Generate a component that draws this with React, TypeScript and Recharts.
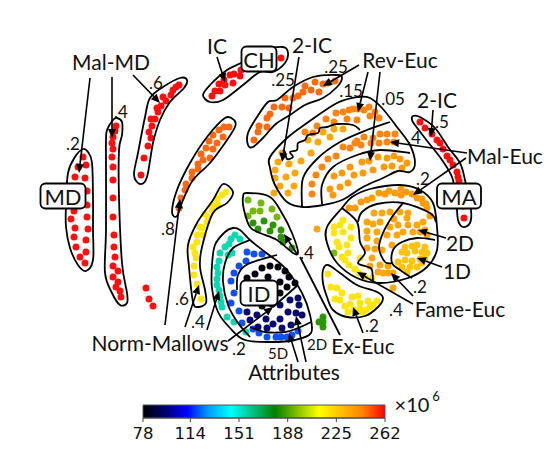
import { ScatterChart, Scatter, XAxis, YAxis, ReferenceArea } from "recharts";

type Pair = number[];

// Embedding coordinates, one array per colour group
const redDots: Pair[] = [
  [83, 157], [78, 167], [86, 165], [75, 177], [85, 178], [87, 191], [87, 205], [74, 211], [71, 219], [87, 217],
  [75, 228], [88, 229], [74, 237], [86, 240], [76, 247], [86, 252], [80, 257], [85, 263],
  [116, 126], [115, 131], [113, 137], [112, 143], [113, 149], [112, 157], [113, 167], [113, 180], [113, 198], [113, 217],
  [114, 235], [114, 247], [115, 257], [113, 266], [118, 271], [113, 277], [118, 282], [116, 287], [120, 291], [121, 297],
  [146, 288], [149, 299], [153, 306],
  [179, 85], [176, 87], [173, 90], [171, 95], [163, 97], [166, 101], [161, 106], [157, 108], [158, 112], [155, 119],
  [151, 119], [152, 126], [149, 132], [151, 138], [148, 146], [144, 158], [141, 175],
  [212, 96], [215, 91], [220, 91], [219, 84], [224, 80], [225, 85], [230, 75], [234, 74], [233, 83], [240, 76], [241, 70], [281, 58],
  [420, 122], [425, 128], [432, 134], [437, 140], [440, 143], [443, 149], [447, 156], [450, 160], [453, 165], [457, 172],
  [458, 177], [459, 181], [463, 206], [464, 218],
];
const redOrangeDots: Pair[] = [
  [229, 127], [224, 127], [219, 130], [213, 135], [223, 137], [209, 141], [217, 143], [206, 148], [213, 149], [201, 154],
  [210, 158], [203, 160], [198, 164], [198, 169], [192, 172], [192, 178], [186, 184], [185, 190], [181, 198], [179, 208],
  [335, 81], [328, 83], [323, 84], [315, 82], [319, 92], [311, 90], [305, 86], [303, 92], [298, 96], [293, 98],
  [285, 98], [282, 107], [274, 107], [270, 114], [267, 118], [289, 108], [267, 127], [259, 126], [258, 132], [254, 140],
];
const orangeDots: Pair[] = [
  [369, 107], [364, 110], [358, 109], [353, 109], [349, 110], [343, 112], [336, 113], [375, 112], [370, 116], [379, 118],
  [357, 120], [347, 119], [334, 122], [326, 119], [317, 126], [313, 133], [305, 132],
  [395, 134], [387, 134], [380, 134], [373, 138], [364, 137], [357, 141], [394, 142], [387, 142], [379, 143], [371, 143],
  [361, 145], [355, 143], [350, 148], [343, 147], [336, 156], [328, 159], [322, 167], [316, 175], [312, 184], [312, 194],
];
const amberDots: Pair[] = [
  [394, 156], [387, 158], [378, 157], [369, 161], [362, 162], [407, 163], [400, 159], [392, 166], [384, 167], [402, 168],
  [373, 170], [363, 173], [354, 175], [350, 167], [342, 173], [334, 176], [348, 183], [340, 187], [330, 189], [333, 195],
  [349, 208], [355, 208], [361, 202], [367, 200], [372, 198], [379, 193], [385, 194], [389, 191], [395, 193], [401, 189],
  [401, 195], [406, 192], [412, 194], [417, 198], [422, 199], [426, 204], [430, 216], [423, 203], [427, 208],
];
const lightOrangeDots: Pair[] = [
  [343, 129], [334, 129], [330, 137], [323, 132], [318, 142], [308, 140], [311, 153], [301, 161], [295, 173], [289, 164],
  [278, 162], [282, 153], [275, 170], [286, 177], [275, 178], [294, 186], [280, 186], [288, 193], [274, 193],
  [408, 213], [400, 212], [394, 219], [407, 218], [390, 212], [382, 213], [374, 213], [367, 222], [373, 224], [380, 222],
  [390, 227], [398, 225], [408, 225], [417, 225], [423, 222], [425, 230], [367, 231], [377, 232], [387, 235], [397, 235],
  [403, 232], [413, 232], [420, 232], [427, 235], [367, 238], [377, 241], [392, 245], [382, 250], [367, 248], [375, 249],
  [372, 258], [380, 265], [388, 266], [370, 266], [378, 272], [383, 273], [388, 273], [393, 273], [393, 288], [317, 229],
];
const goldDots: Pair[] = [
  [405, 247], [412, 246], [417, 245], [425, 247], [402, 252], [407, 253], [415, 251], [422, 252], [427, 253], [398, 262],
  [405, 260], [412, 261], [420, 259], [425, 258], [410, 267], [402, 267], [407, 272], [417, 267], [422, 263],
];
const yellowDots: Pair[] = [
  [226, 192], [222, 195], [217, 199], [218, 205], [212, 205], [212, 210], [208, 217], [205, 214], [207, 222], [200, 227],
  [202, 228], [197, 235], [203, 235], [197, 242], [193, 247], [195, 253], [196, 258], [194, 266], [194, 275], [197, 284], [201, 299],
  [343, 220], [340, 225], [334, 227], [343, 232], [351, 227], [334, 233], [351, 238], [337, 242], [339, 247], [347, 245],
  [348, 253], [342, 257], [345, 260], [360, 258], [349, 265], [355, 269], [359, 273], [365, 277], [372, 278],
  [328, 274], [331, 287], [337, 288], [342, 293], [335, 299], [340, 300], [352, 297], [358, 296], [345, 306], [350, 304],
  [360, 303], [360, 309], [368, 301], [377, 301], [370, 307], [373, 305], [348, 312], [354, 310], [363, 312], [366, 310],
];
const limeDots: Pair[] = [[248, 200], [261, 203], [253, 211], [260, 211], [272, 209], [248, 216], [277, 217], [334, 253]];
const greenDots: Pair[] = [
  [253, 223], [264, 221], [273, 225], [258, 229], [270, 231], [281, 230], [281, 237], [283, 242], [292, 248],
  [323, 317], [319, 322], [323, 322], [323, 327],
];
const tealDots: Pair[] = [
  [235, 235], [240, 239], [231, 239], [225, 247], [229, 244], [232, 253], [220, 253], [228, 255], [219, 261], [217, 267],
  [218, 273], [217, 279], [217, 285], [219, 290], [220, 296], [221, 302], [222, 307], [227, 317], [234, 322], [246, 332],
];
const blueDots: Pair[] = [
  [247, 252], [254, 254], [262, 254], [246, 261], [239, 266], [234, 273], [231, 281], [234, 293], [231, 303], [239, 311],
  [242, 323], [253, 329], [259, 333], [267, 337], [276, 337], [281, 337], [287, 337], [292, 335], [298, 331],
];
const navyDots: Pair[] = [
  [298, 298], [290, 300], [299, 305], [280, 305], [288, 312], [296, 313], [302, 315], [280, 319], [273, 324], [266, 319],
  [257, 315], [247, 312], [250, 320], [291, 325], [282, 328], [258, 327], [267, 328],
];
const blackDots: Pair[] = [
  [262, 268], [270, 266], [278, 267], [285, 271], [289, 277], [295, 283], [255, 274], [247, 278], [268, 277],
  [280, 282], [287, 287], [280, 293], [262, 306], [272, 304],
];

const dotGroups: [Pair[], string][] = [
  [redDots, "#ff0f0f"],
  [redOrangeDots, "#ff6a10"],
  [orangeDots, "#ff8410"],
  [amberDots, "#ff9a08"],
  [lightOrangeDots, "#ffa70a"],
  [goldDots, "#ffc408"],
  [yellowDots, "#ffe50a"],
  [limeDots, "#74b80a"],
  [greenDots, "#2a9605"],
  [tealDots, "#0ad8b0"],
  [blueDots, "#1250f5"],
  [navyDots, "#0a0a6c"],
  [blackDots, "#050510"],
];

// Hand-drawn cluster outlines in the same coordinates
const closedOutlines: Pair[][] = [
  [[83, 149], [88, 152], [92, 163], [93, 197], [93, 230], [93, 260], [86, 271], [78, 265], [70, 248], [66, 227], [66, 205], [68, 173], [75, 157]],
  [[117, 118], [122, 122], [122, 135], [119, 150], [119, 197], [122, 263], [127, 293], [127, 303], [120, 305], [112, 293], [105, 273], [106, 230], [106, 163], [106, 140], [107, 130], [113, 120]],
  [[180, 78], [187, 80], [184, 88], [170, 102], [160, 120], [153, 143], [147, 177], [140, 184], [134, 175], [138, 153], [145, 117], [150, 98], [163, 87]],
  [[203, 95], [210, 85], [227, 70], [243, 62], [262, 50], [283, 47], [288, 53], [285, 63], [273, 72], [260, 72], [243, 85], [223, 100], [210, 102]],
  [[225, 118], [234, 120], [235, 127], [225, 143], [210, 163], [193, 180], [183, 200], [177, 216], [172, 212], [177, 190], [190, 163], [207, 137]],
  [[223, 184], [233, 192], [227, 203], [213, 213], [202, 247], [200, 267], [205, 290], [206, 303], [198, 307], [193, 302], [189, 267], [188, 245], [197, 223], [213, 200]],
  [[337, 75], [342, 78], [337, 87], [323, 98], [305, 105], [290, 115], [277, 123], [270, 130], [263, 138], [253, 147], [248, 145], [248, 133], [257, 117], [268, 102], [277, 100], [293, 87], [313, 77]],
  [[270, 157], [287, 138], [307, 123], [337, 103], [358, 97], [370, 98], [382, 108], [397, 127], [410, 145], [415, 163], [410, 172], [398, 171], [383, 178], [363, 187], [342, 200], [323, 205], [303, 207], [287, 202], [275, 185], [270, 168]],
  [[413, 116], [420, 117], [435, 128], [448, 147], [460, 163], [465, 180], [471, 210], [470, 223], [463, 227], [458, 220], [456, 197], [452, 177], [442, 160], [428, 142], [415, 125], [412, 120]],
  [[342, 208], [352, 197], [370, 189], [400, 185], [420, 190], [433, 203], [437, 227], [437, 250], [427, 267], [408, 278], [380, 283], [357, 278], [337, 263], [327, 243], [327, 227]],
  [[323, 270], [328, 265], [340, 273], [357, 285], [377, 292], [383, 298], [378, 307], [365, 316], [347, 317], [333, 310], [327, 297], [323, 283]],
  [[247, 193], [270, 197], [283, 215], [292, 233], [298, 252], [293, 253], [277, 240], [260, 233], [250, 227], [244, 210], [243, 197]],
  [[233, 228], [225, 232], [215, 245], [212, 265], [212, 288], [218, 312], [230, 328], [245, 340], [272, 342], [295, 340], [311, 333], [310, 315], [302, 293], [285, 268], [265, 252], [250, 240], [240, 230]],
];
const openDividers: Pair[][] = [
  [[302, 207], [303, 178], [318, 158], [340, 142], [367, 130], [390, 122]],
  [[322, 204], [322, 185], [333, 167], [357, 155], [380, 150], [410, 153]],
  [[360, 130], [353, 125], [337, 124], [327, 127], [320, 128], [318, 133], [308, 135], [305, 140], [298, 143], [297, 150], [290, 152], [293, 157], [287, 159], [285, 152], [283, 150]],
  [[358, 222], [362, 212], [377, 204], [403, 203], [430, 213], [436, 222]],
  [[403, 203], [392, 217], [383, 233], [379, 248], [385, 262], [393, 263]],
  [[435, 240], [417, 238], [402, 242], [393, 250], [392, 263], [400, 270], [412, 278]],
  [[342, 208], [357, 222], [360, 242], [365, 253], [358, 263], [368, 267], [372, 270], [373, 282]],
  [[250, 240], [233, 248], [225, 263], [223, 282], [228, 305], [238, 323], [250, 337]],
  [[277, 255], [248, 264], [238, 275], [237, 290]],
  [[250, 327], [265, 332], [285, 332], [298, 328], [311, 322]],
  [[273, 307], [298, 285]],
  [[300, 257], [340, 335]],
];
const arrows: Pair[][] = [
  [[90, 78], [79, 173]],
  [[112, 77], [112, 138]],
  [[133, 75], [160, 103]],
  [[217, 57], [225, 82]],
  [[299, 57], [282, 162]],
  [[359, 65], [323, 86]],
  [[368, 72], [358, 112]],
  [[380, 72], [370, 161]],
  [[433, 110], [431, 137]],
  [[467, 153], [390, 142]],
  [[466, 158], [413, 195]],
  [[446, 238], [418, 230]],
  [[442, 267], [417, 258]],
  [[413, 296], [391, 273]],
  [[413, 304], [357, 272]],
  [[363, 333], [353, 307]],
  [[297, 254], [284, 234]],
  [[165, 325], [180, 199]],
  [[185, 327], [199, 285]],
  [[207, 330], [219, 291]],
  [[228, 341], [273, 307]],
  [[298, 362], [289, 333]],
  [[306, 362], [296, 316]],
];

const boxLabels = [
  { x: 63, y: 196, w: 43, text: "MD" },
  { x: 259, y: 59, w: 33, text: "CH" },
  { x: 459, y: 196, w: 42, text: "MA" },
  { x: 259, y: 293, w: 35, text: "ID" },
];
const bigLabels = [
  { x: 111, y: 61, text: "Mal-MD" },
  { x: 217, y: 45, text: "IC" },
  { x: 312, y: 44, text: "2-IC" },
  { x: 400, y: 59, text: "Rev-Euc" },
  { x: 437, y: 99, text: "2-IC" },
  { x: 505, y: 155, text: "Mal-Euc" },
  { x: 460, y: 242, text: "2D" },
  { x: 457, y: 270, text: "1D" },
  { x: 460, y: 308, text: "Fame-Euc" },
  { x: 363, y: 345, text: "Ex-Euc" },
  { x: 160, y: 342, text: "Norm-Mallows" },
  { x: 294, y: 371, text: "Attributes" },
];
const smallLabels = [
  { x: 73, y: 143, text: ".2" },
  { x: 121, y: 111, text: ".4" },
  { x: 156, y: 82, text: ".6" },
  { x: 336, y: 66, text: ".25" },
  { x: 283, y: 79, text: ".25" },
  { x: 351, y: 90, text: ".15" },
  { x: 393, y: 98, text: ".05" },
  { x: 442, y: 121, text: ".5" },
  { x: 414, y: 137, text: ".4" },
  { x: 423, y: 178, text: ".2" },
  { x: 420, y: 286, text: ".2" },
  { x: 396, y: 309, text: ".4" },
  { x: 372, y: 325, text: ".2" },
  { x: 307, y: 252, text: ".4" },
  { x: 168, y: 228, text: ".8" },
  { x: 182, y: 298, text: ".6" },
  { x: 198, y: 321, text: ".4" },
  { x: 239, y: 348, text: ".2" },
];
const sizeLabels = [
  { x: 278, y: 353, text: "5D" },
  { x: 317, y: 344, text: "2D" },
];

const colorbarTicks = [78, 114, 151, 188, 225, 262];
const colorbarEnds = [{ x: 78, y: 0 }, { x: 262, y: 1 }];
const colorbarStops = ["#000000", "#00006e", "#0000ff", "#00a0ff", "#00ffff", "#00c080", "#008000", "#80c000", "#ffff00", "#ffc000", "#ff8000", "#ff0000"];

const FONT = "Lato, 'Open Sans', sans-serif";

const toPoints = (pairs: Pair[]) => pairs.map(([x, y]) => ({ x, y }));

// Catmull-Rom through the outline's points, so the loops stay round
function smoothPath(pts: { x: number; y: number }[], closed: boolean) {
  const n = pts.length;
  const at = (i: number) => (closed ? pts[(i + n) % n] : pts[Math.max(0, Math.min(n - 1, i))]);
  let d = `M${pts[0].x},${pts[0].y}`;
  const last = closed ? n : n - 1;
  for (let i = 0; i < last; i++) {
    const p0 = at(i - 1);
    const p1 = at(i);
    const p2 = at(i + 1);
    const p3 = at(i + 2);
    d += `C${p1.x + (p2.x - p0.x) / 6},${p1.y + (p2.y - p0.y) / 6} ${p2.x - (p3.x - p1.x) / 6},${p2.y - (p3.y - p1.y) / 6} ${p2.x},${p2.y}`;
  }
  return closed ? d + "Z" : d;
}

const outlineLine = (closed: boolean) => (props: any) => (
  <path d={smoothPath(props.points, closed)} fill="none" stroke="#000" strokeWidth={1.8} />
);

function arrowLine(props: any) {
  const [a, b] = props.points;
  const ang = Math.atan2(b.y - a.y, b.x - a.x);
  const size = 9;
  const wing = 4;
  const bx = b.x - size * Math.cos(ang);
  const by = b.y - size * Math.sin(ang);
  const head = [
    [b.x, b.y],
    [bx - wing * Math.sin(ang), by + wing * Math.cos(ang)],
    [bx + wing * Math.sin(ang), by - wing * Math.cos(ang)],
  ];
  return (
    <g>
      <line x1={a.x} y1={a.y} x2={bx} y2={by} stroke="#000" strokeWidth={1.6} />
      <polygon points={head.map((p) => p.join(",")).join(" ")} fill="#000" />
    </g>
  );
}

const noMark = () => <g />;

const textShape = (size: number) => (props: any) => (
  <text x={props.cx} y={props.cy} fontSize={size} fontFamily={FONT} fill="#111" textAnchor="middle" dominantBaseline="central">
    {props.text}
  </text>
);

const boxShape = (props: any) => (
  <g>
    <rect x={props.cx - props.w / 2 - 1} y={props.cy - 12.5} width={props.w + 2} height={25} rx={5} fill="#fff" stroke="#000" strokeWidth={1.8} />
    <text x={props.cx} y={props.cy} fontSize={22} fontFamily={FONT} fill="#111" textAnchor="middle" dominantBaseline="central">
      {props.text}
    </text>
  </g>
);

export default function App() {
  return (
    <div style={{ position: "absolute", left: 0, top: 0, width: 550, height: 475, background: "#fff" }}>
      <div style={{ position: "absolute", left: 0, top: 0 }}>
        <ScatterChart width={550} height={475} margin={{ top: 0, right: 0, bottom: 0, left: 0 }}>
          <XAxis type="number" dataKey="x" domain={[0, 550]} hide />
          <YAxis type="number" dataKey="y" domain={[0, 475]} reversed hide />
          {dotGroups.map(([dots, color], i) => (
            <Scatter
              key={i}
              data={toPoints(dots)}
              isAnimationActive={false}
              shape={(p: any) => <circle cx={p.cx} cy={p.cy} r={3.5} fill={color} />}
            />
          ))}
          {closedOutlines.map((pts, i) => (
            <Scatter key={"c" + i} data={toPoints(pts)} isAnimationActive={false} shape={noMark} line={outlineLine(true)} />
          ))}
          {openDividers.map((pts, i) => (
            <Scatter key={"o" + i} data={toPoints(pts)} isAnimationActive={false} shape={noMark} line={outlineLine(false)} />
          ))}
          {arrows.map((pts, i) => (
            <Scatter key={"a" + i} data={toPoints(pts)} isAnimationActive={false} shape={noMark} line={arrowLine} />
          ))}
          <Scatter data={boxLabels} isAnimationActive={false} shape={boxShape} />
          <Scatter data={bigLabels} isAnimationActive={false} shape={textShape(21)} />
          <Scatter data={smallLabels} isAnimationActive={false} shape={textShape(17)} />
          <Scatter data={sizeLabels} isAnimationActive={false} shape={textShape(15)} />
          <Scatter data={[{ x: 412, y: 404, text: "×10" }]} isAnimationActive={false} shape={textShape(20)} />
          <Scatter data={[{ x: 436, y: 396, text: "6" }]} isAnimationActive={false} shape={textShape(13)} />
        </ScatterChart>
      </div>
      <div style={{ position: "absolute", left: 0, top: 0 }}>
        <ScatterChart width={550} height={475} margin={{ top: 405, right: 165, bottom: 27, left: 143 }}>
          <defs>
            <linearGradient id="jetBar" x1="0" x2="1" y1="0" y2="0">
              {colorbarStops.map((c, i) => (
                <stop key={i} offset={i / (colorbarStops.length - 1)} stopColor={c} />
              ))}
            </linearGradient>
          </defs>
          <XAxis
            type="number"
            dataKey="x"
            domain={[78, 262]}
            ticks={colorbarTicks}
            interval={0}
            height={30}
            tickSize={4}
            tickMargin={5}
            tick={{ fontSize: 16.5, fontFamily: "'DejaVu Sans'", fill: "#111" }}
            stroke="#444"
          />
          <YAxis type="number" dataKey="y" domain={[0, 1]} hide />
          <ReferenceArea x1={78} x2={262} y1={0} y2={1} fill="url(#jetBar)" fillOpacity={1} stroke="#555" />
          <Scatter data={colorbarEnds} isAnimationActive={false} shape={noMark} />
        </ScatterChart>
      </div>
    </div>
  );
}
